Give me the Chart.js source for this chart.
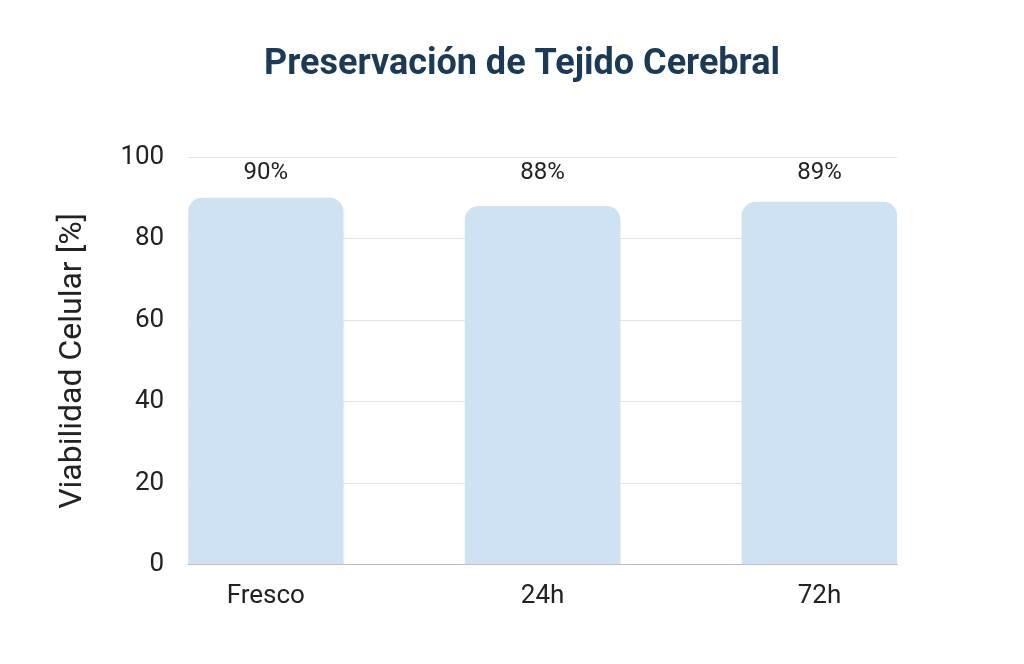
<!DOCTYPE html>
<html><head><meta charset="utf-8">
<script src="https://cdn.jsdelivr.net/npm/chart.js@4/dist/chart.umd.min.js"></script>
<style>html,body{margin:0;background:#fff}#w{width:1024px;height:664px}</style>
</head><body><div id="w"><canvas id="c"></canvas></div>
<script>
const categories = ["Fresco", "24h", "72h"];
const viability = [90, 88, 89];
const yTicks = [0, 20, 40, 60, 80, 100];
const titleText = 'Preservación de Tejido Cerebral';

const labelPlugin = {
  id: 'lbl',
  afterDatasetsDraw(chart) {
    const ctx = chart.ctx;
    const meta = chart.getDatasetMeta(0);
    ctx.save();
    ctx.font = '24px Roboto, sans-serif';
    ctx.fillStyle = '#222';
    ctx.textAlign = 'center';
    ctx.textBaseline = 'middle';
    meta.data.forEach((b, i) => {
      ctx.fillText(viability[i] + '%', b.x, chart.scales.y.getPixelForValue(100) + 16);
    });
    ctx.font = 'bold 36px Roboto, sans-serif';
    ctx.fillStyle = '#1b3a57';
    ctx.fillText(titleText, chart.width / 2 + 10, 65);
    ctx.restore();
  }
};

new Chart(document.getElementById('c'), {
  type: 'bar',
  data: {
    datasets: [{
      data: viability.map((v, i) => ({x: i, y: v})),
      backgroundColor: '#cfe2f3',
      borderRadius: {topLeft: 14, topRight: 14},
      borderSkipped: 'bottom',
      barPercentage: 0.5625,
      categoryPercentage: 1
    }]
  },
  options: {
    responsive: true, maintainAspectRatio: false, animation: false,
    layout: {padding: {left: 50, right: 127, top: 157, bottom: 44}},
    plugins: {legend: {display: false}, tooltip: {enabled: false}},
    scales: {
      x: {type: 'linear', min: -0.28, max: 2.28, offset: false,
        afterBuildTicks(s) { s.ticks = categories.map((_, i) => ({value: i})); },
        ticks: {callback: v => categories[v], color: '#222', font: {family: 'Roboto', size: 26}, padding: 8},
        grid: {display: false}, border: {color: '#bbb'}},
      y: {min: 0, max: 100,
        afterBuildTicks(s) { s.ticks = yTicks.map(v => ({value: v})); },
        ticks: {color: '#222', font: {family: 'Roboto', size: 26}, padding: 24},
        grid: {color: '#e3e3e3', drawTicks: false}, border: {display: false},
        title: {display: true, text: 'Viabilidad Celular [%]', color: '#222',
          font: {family: 'Roboto', size: 32}, padding: 4}}
    }
  },
  plugins: [labelPlugin]
});
</script></body></html>
